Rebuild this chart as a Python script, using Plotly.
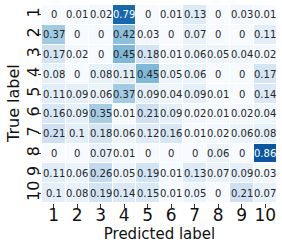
import plotly.graph_objects as go

labels = ["1", "2", "3", "4", "5", "6", "7", "8", "9", "10"]
row_1 = [0, 0.01, 0.02, 0.79, 0, 0.01, 0.13, 0, 0.03, 0.01]
row_2 = [0.37, 0, 0, 0.42, 0.03, 0, 0.07, 0, 0, 0.11]
row_3 = [0.17, 0.02, 0, 0.45, 0.18, 0.01, 0.06, 0.05, 0.04, 0.02]
row_4 = [0.08, 0, 0.08, 0.11, 0.45, 0.05, 0.06, 0, 0, 0.17]
row_5 = [0.11, 0.09, 0.06, 0.37, 0.09, 0.04, 0.09, 0.01, 0, 0.14]
row_6 = [0.16, 0.09, 0.35, 0.01, 0.21, 0.09, 0.02, 0.01, 0.02, 0.04]
row_7 = [0.21, 0.1, 0.18, 0.06, 0.12, 0.16, 0.01, 0.02, 0.06, 0.08]
row_8 = [0, 0, 0.07, 0.01, 0, 0, 0, 0.06, 0, 0.86]
row_9 = [0.11, 0.06, 0.26, 0.05, 0.19, 0.01, 0.13, 0.07, 0.09, 0.03]
row_10 = [0.1, 0.08, 0.19, 0.14, 0.15, 0.01, 0.05, 0, 0.21, 0.07]
matrix = [row_1, row_2, row_3, row_4, row_5, row_6, row_7, row_8, row_9, row_10]

blues = [
    [0.0, "#f7fbff"], [0.125, "#deebf7"], [0.25, "#c6dbef"],
    [0.375, "#9ecae1"], [0.5, "#6baed6"], [0.625, "#4292c6"],
    [0.75, "#2171b5"], [0.875, "#08519c"], [1.0, "#08306b"],
]

FONT = "DejaVu Sans"
pos = list(range(1, len(labels) + 1))

fig = go.Figure(go.Heatmap(
    z=matrix, x=pos, y=pos,
    colorscale=blues, zmin=0, zmax=1,
    showscale=False, xgap=1, ygap=1, hoverinfo="skip",
))

for i, row in enumerate(matrix):
    for j, v in enumerate(row):
        fig.add_annotation(
            x=pos[j], y=pos[i], text="{:.2g}".format(v),
            showarrow=False,
            font=dict(family=FONT, size=10, color="white" if v > 0.6 else "#262626"),
        )

# y-axis title placed as a rotated paper annotation
fig.add_annotation(
    xref="paper", yref="paper", x=0, y=0.5, xshift=-29,
    xanchor="center", yanchor="middle", textangle=-90,
    text="True label", showarrow=False,
    font=dict(family=FONT, size=16, color="#111"),
)

fig.update_layout(
    width=282, height=249,
    margin=dict(l=42, r=5, t=5, b=46, autoexpand=False),
    paper_bgcolor="white", plot_bgcolor="white",
    font=dict(family=FONT, color="#111"),
    xaxis=dict(
        range=[0.5, len(labels) + 0.5], tickvals=pos, ticktext=labels,
        showgrid=False, zeroline=False, automargin=True,
        ticks="outside", ticklen=3.5, tickwidth=0.8, tickcolor="#333",
        tickfont=dict(size=17), ticklabelstandoff=-7,
        title=dict(text="Predicted label", font=dict(size=15), standoff=0),
    ),
    yaxis=dict(
        range=[len(labels) + 0.5, 0.5], tickvals=pos, ticktext=labels,
        showgrid=False, zeroline=False, automargin=False,
        ticks="outside", ticklen=3.5, tickwidth=0.8, tickcolor="#333",
        tickfont=dict(size=16), tickangle=-90, ticklabelstandoff=-8,
    ),
)

fig.write_html(
    "out.html",
    config={"displayModeBar": False},
    post_script="document.body.style.margin='0';document.body.style.overflow='hidden';",
)
